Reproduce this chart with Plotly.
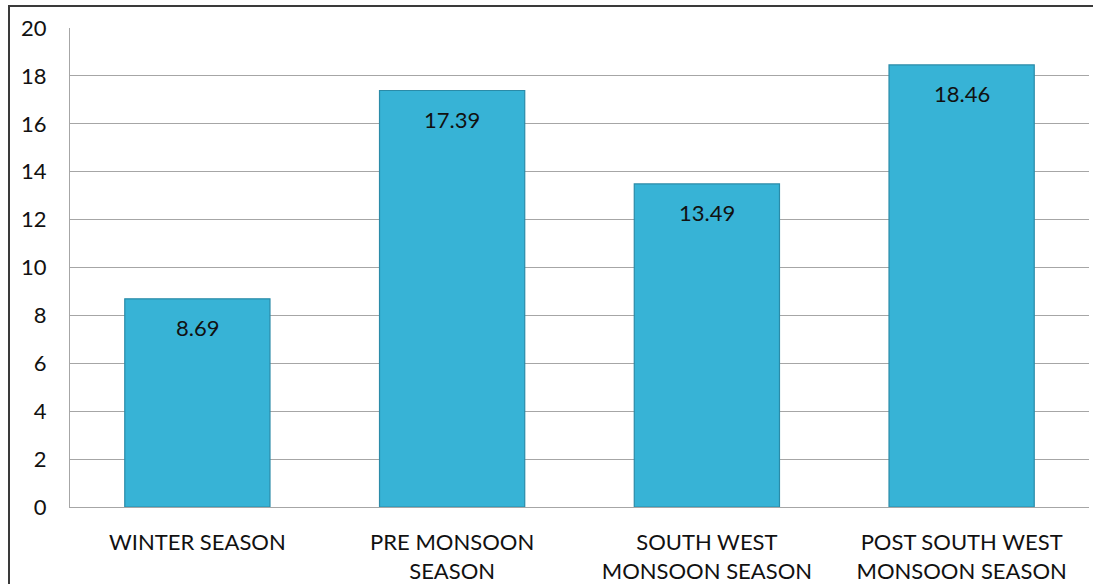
import plotly.graph_objects as go

categories = ["WINTER SEASON", "PRE MONSOON<br>SEASON", "SOUTH WEST<br>MONSOON SEASON", "POST SOUTH WEST<br>MONSOON SEASON"]
values = [8.69, 17.39, 13.49, 18.46]
value_labels = ["8.69", "17.39", "13.49", "18.46"]
y_ticks = [0, 2, 4, 6, 8, 10, 12, 14, 16, 18, 20]

W, H = 1093, 584
ml, mr, mt, mb = 70, 4, 28, 77
pw, ph = W - ml - mr, H - mt - mb

font_family = "Lato, 'Open Sans', sans-serif"

fig = go.Figure()
fig.add_trace(go.Bar(
    x=categories,
    y=values,
    marker=dict(color="#37B3D6", line=dict(color="#2A8BA8", width=1.2)),
    width=0.57,
    hoverinfo="skip",
))

for c, v, t in zip(categories, values, value_labels):
    fig.add_annotation(x=c, y=v, text=t, showarrow=False, yanchor="middle",
                       yshift=-29, font=dict(size=22, color="#111111", family=font_family))

# outer frame (paper-relative, extends past right/bottom edges)
fig.add_shape(type="rect", xref="paper", yref="paper",
              x0=(9 - ml) / pw, x1=(W + 20 - ml) / pw,
              y0=-(H + 20 - mt - ph) / ph, y1=1 + (mt - 6) / ph,
              line=dict(color="#3a3a3a", width=2), layer="above")

fig.update_layout(
    width=W, height=H,
    margin=dict(l=ml, r=mr, t=mt, b=mb),
    paper_bgcolor="white", plot_bgcolor="white",
    showlegend=False,
    font=dict(family=font_family, size=22, color="#111111"),
    bargap=0.43,
    xaxis=dict(
        showgrid=False, showline=True, linecolor="#A6A6A6", linewidth=1,
        ticks="", tickfont=dict(size=22, color="#111111"),
        ticklabelstandoff=16, automargin=False,
    ),
    yaxis=dict(
        range=[0, 20], tickvals=y_ticks, showgrid=True, gridcolor="#A6A6A6",
        gridwidth=1, showline=True, linecolor="#A6A6A6", linewidth=1,
        zeroline=False, ticks="", tickfont=dict(size=22, color="#111111"),
        ticklabelstandoff=18, automargin=False,
    ),
)

fig.write_html("out.html")
